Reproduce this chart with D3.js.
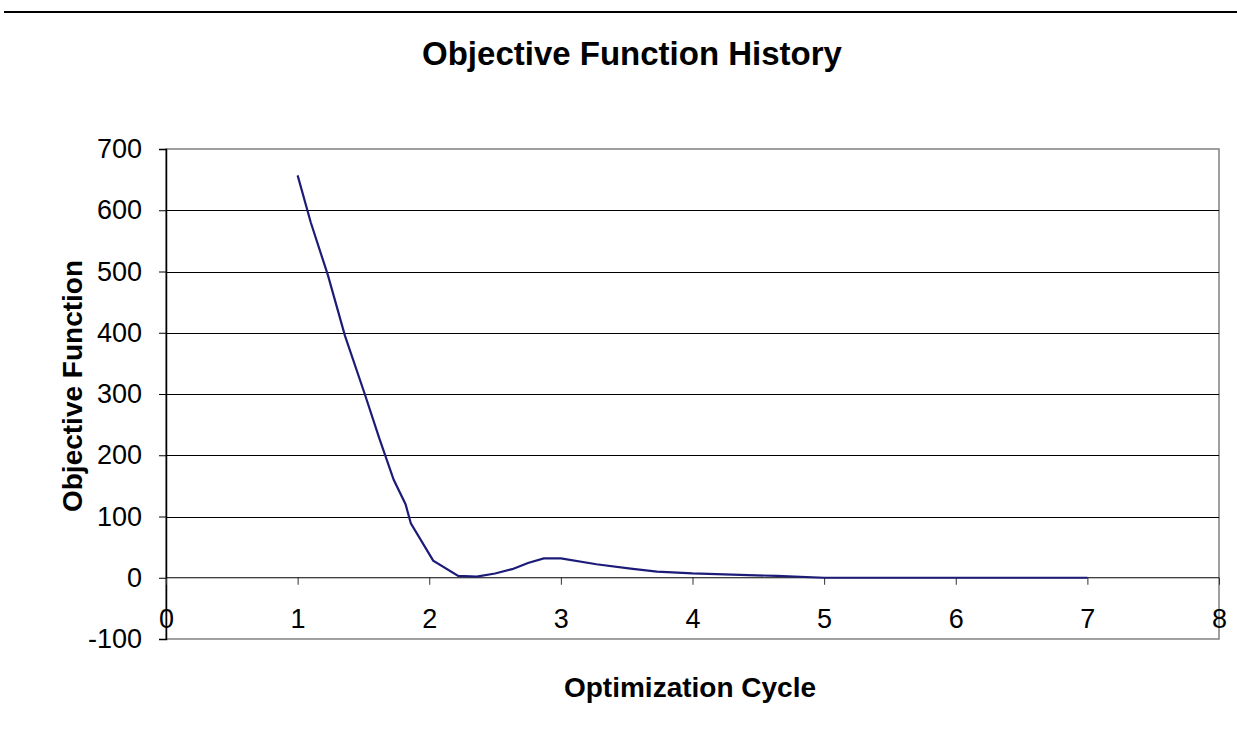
<!DOCTYPE html>
<html>
<head>
<meta charset="utf-8">
<script src="https://cdn.jsdelivr.net/npm/d3@7"></script>
<style>
  body { margin: 0; background: #fff; }
  text { font-family: "Liberation Sans", Arial, sans-serif; fill: #000; }
  .title { font-size: 33px; font-weight: bold; }
  .axis-label { font-size: 28px; font-weight: bold; }
  .tick text { font-size: 27px; }
</style>
</head>
<body>
<svg width="1237" height="732"></svg>
<script>
// optimization cycle (x) and objective function value (y)
const cycles = [1, 1.1, 1.23, 1.36, 1.51, 1.62, 1.73, 1.82, 1.86, 2.03, 2.22, 2.36, 2.5, 2.63, 2.75, 2.87, 3.0, 3.27, 3.53, 3.73, 4.0, 4.64, 5.0, 6, 7];
const objective = [657, 580, 494, 395, 300, 228, 160, 120, 89, 28, 3, 2, 7, 14, 24, 31.5, 31.5, 22, 15, 10, 7, 3, 0, 0, 0];
const xTicks = [0, 1, 2, 3, 4, 5, 6, 7, 8];
const yTicks = [-100, 0, 100, 200, 300, 400, 500, 600, 700];

const svg = d3.select('svg');
const width = +svg.attr('width');

const margin = { top: 149, right: 18, bottom: 93, left: 166 };
const innerWidth = width - margin.left - margin.right;
const innerHeight = 732 - margin.top - margin.bottom;

// rule across the top of the page
svg.append('line')
  .attr('x1', 4).attr('x2', width)
  .attr('y1', 12).attr('y2', 12)
  .attr('stroke', '#000').attr('stroke-width', 2);

svg.append('text')
  .attr('class', 'title')
  .attr('x', 632).attr('y', 65)
  .attr('text-anchor', 'middle')
  .text('Objective Function History');

const xScale = d3.scaleLinear().domain([0, 8]).range([0, innerWidth]);
const yScale = d3.scaleLinear().domain([-100, 700]).range([innerHeight, 0]);

const g = svg.append('g')
  .attr('transform', `translate(${margin.left},${margin.top})`);

// plot area border
g.append('rect')
  .attr('width', innerWidth).attr('height', innerHeight)
  .attr('fill', 'none').attr('stroke', '#808080').attr('stroke-width', 1.5);

// gridlines
g.selectAll('.grid')
  .data(yTicks.filter(d => d > 0 && d < 700))
  .enter().append('line')
  .attr('x1', 0).attr('x2', innerWidth)
  .attr('y1', d => Math.round(yScale(d)) + 0.5)
  .attr('y2', d => Math.round(yScale(d)) + 0.5)
  .attr('stroke', '#000').attr('stroke-width', 1);

// y axis (plain hyphen for negatives, like the original)
const yAxis = d3.axisLeft(yScale)
  .tickValues(yTicks)
  .tickFormat(d => String(d))
  .tickSize(7)
  .tickPadding(17);
const yAxisG = g.append('g').call(yAxis);
yAxisG.select('.domain').attr('stroke', '#000').attr('stroke-width', 1.5);
yAxisG.selectAll('.tick line').attr('stroke', '#000');

// x axis sits on zero
const xAxis = d3.axisBottom(xScale)
  .tickValues(xTicks)
  .tickSize(7)
  .tickPadding(24);
const xAxisG = g.append('g')
  .attr('transform', `translate(0,${yScale(0)})`)
  .call(xAxis);
xAxisG.select('.domain').remove();
xAxisG.append('line')
  .attr('x1', 0).attr('x2', innerWidth)
  .attr('stroke', '#000').attr('stroke-width', 1.2);
xAxisG.selectAll('.tick line').attr('stroke', '#333');

// series
const points = cycles.map((c, i) => [c, objective[i]]);
g.append('path')
  .datum(points)
  .attr('fill', 'none')
  .attr('stroke', '#1c1c78')
  .attr('stroke-width', 2.2)
  .attr('d', d3.line().x(d => xScale(d[0])).y(d => yScale(d[1])));

// axis titles
svg.append('text')
  .attr('class', 'axis-label')
  .attr('x', 690).attr('y', 697)
  .attr('text-anchor', 'middle')
  .text('Optimization Cycle');

svg.append('text')
  .attr('class', 'axis-label')
  .attr('transform', 'translate(82,386) rotate(-90)')
  .attr('text-anchor', 'middle')
  .text('Objective Function');
</script>
</body>
</html>
